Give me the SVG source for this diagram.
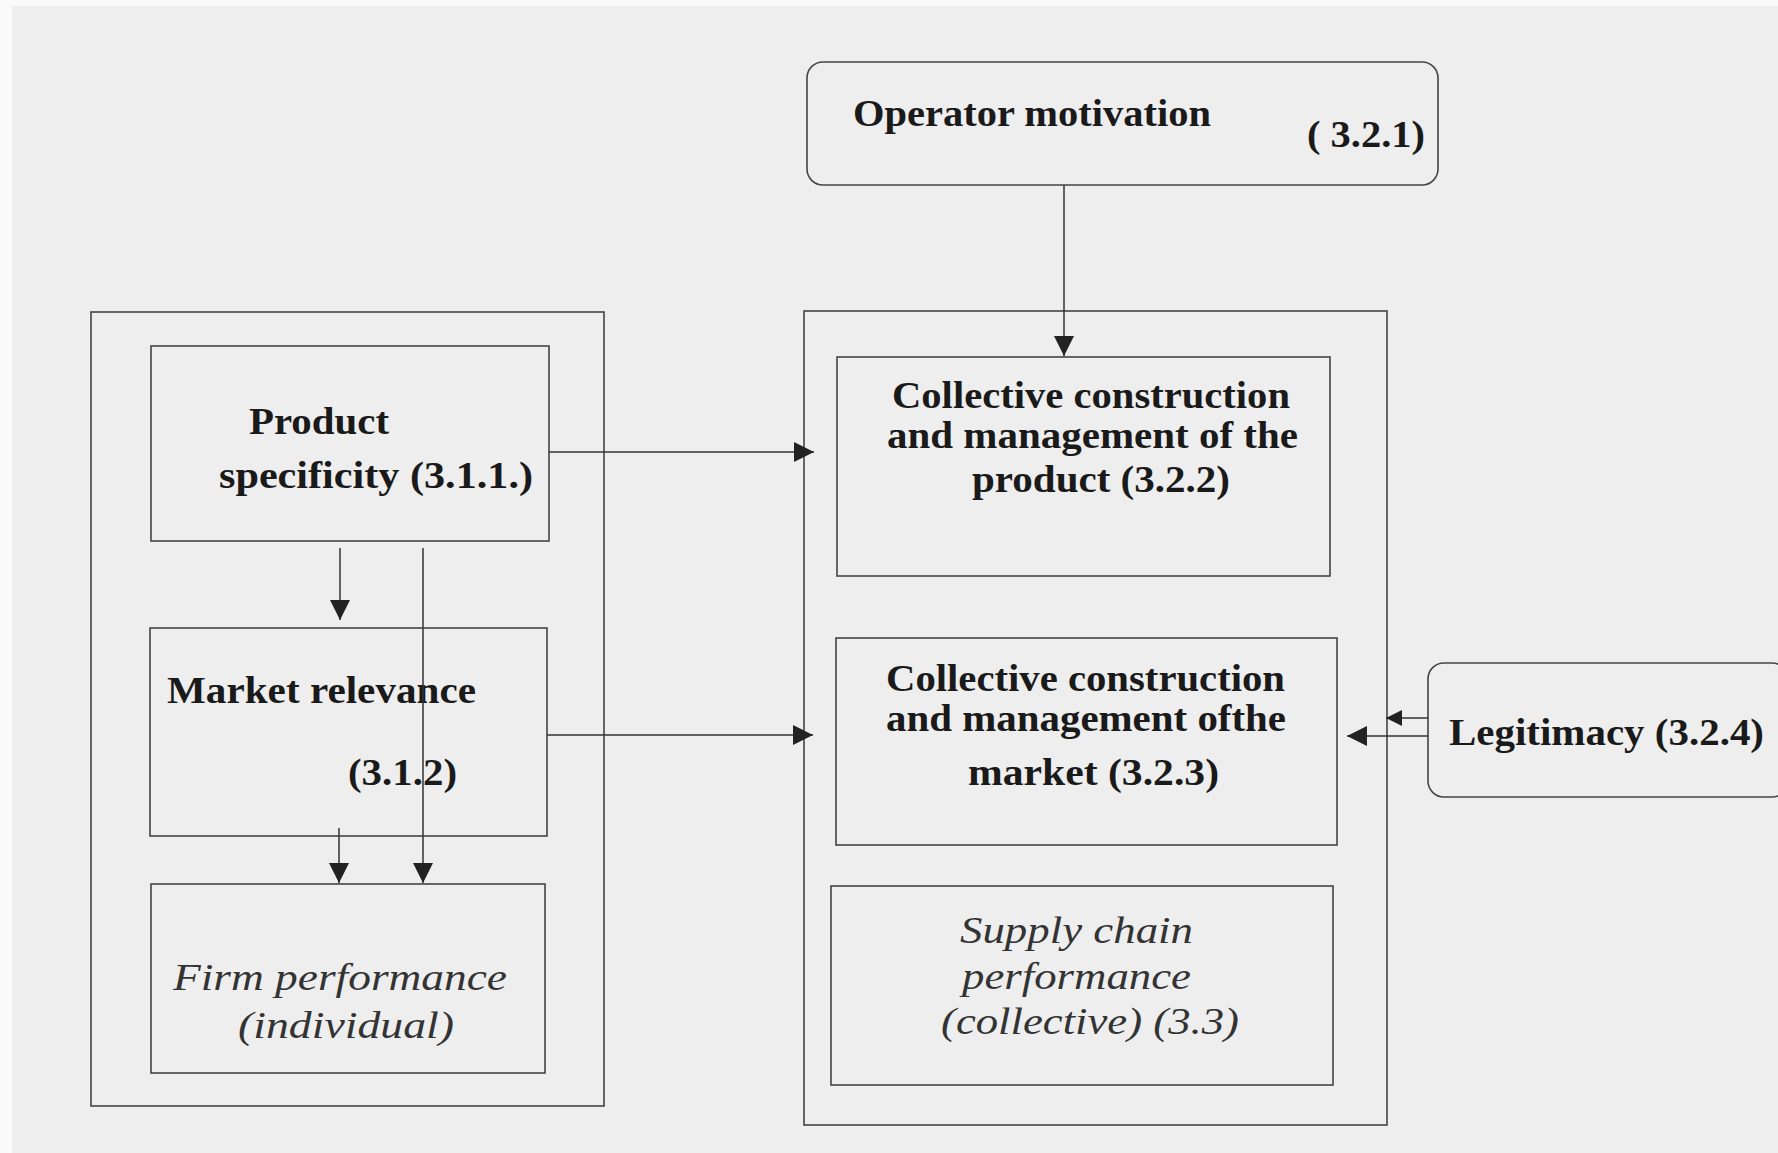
<svg xmlns="http://www.w3.org/2000/svg" width="1778" height="1153" viewBox="0 0 1778 1153">
<defs>
<marker id="arr" viewBox="0 0 10 10" refX="10" refY="5" markerWidth="18" markerHeight="16" markerUnits="userSpaceOnUse" orient="auto">
<path d="M0,0 L10,5 L0,10 z" fill="#222"/>
</marker>
<marker id="arrb" viewBox="0 0 10 10" refX="10" refY="5" markerWidth="22" markerHeight="20" markerUnits="userSpaceOnUse" orient="auto">
<path d="M0,0 L10,5 L0,10 z" fill="#222"/>
</marker>
</defs>
<style>
.box{fill:none;stroke:#444;stroke-width:1.6}
.con{fill:none;stroke:#333;stroke-width:1.5;marker-end:url(#arrb)}
.b{font-family:"Liberation Serif",serif;font-weight:bold;fill:#1a1a1a;font-size:38px}
.i{font-family:"Liberation Serif",serif;font-style:italic;fill:#333;font-size:38px}
</style>
<rect x="0" y="0" width="1778" height="1153" fill="#eeeeee"/>
<rect x="0" y="0" width="1778" height="6" fill="#fafafa"/>
<rect x="0" y="0" width="12" height="1153" fill="#fafafa"/>

<g id="outer-left"><rect class="box" x="91" y="312" width="513" height="794"/></g>
<g id="outer-right"><rect class="box" x="804" y="311" width="583" height="814"/></g>

<g id="operator">
<rect class="box" x="807" y="62" width="631" height="123" rx="16"/>
<text class="b" x="853" y="126" textLength="358" lengthAdjust="spacingAndGlyphs">Operator motivation</text>
<text class="b" x="1307" y="147" textLength="118" lengthAdjust="spacingAndGlyphs">( 3.2.1)</text>
</g>

<g id="product">
<rect class="box" x="151" y="346" width="398" height="195"/>
<text class="b" x="249" y="434" textLength="140" lengthAdjust="spacingAndGlyphs">Product</text>
<text class="b" x="219" y="488" textLength="314" lengthAdjust="spacingAndGlyphs">specificity  (3.1.1.)</text>
</g>

<g id="market">
<rect class="box" x="150" y="628" width="397" height="208"/>
<text class="b" x="167" y="703" textLength="309" lengthAdjust="spacingAndGlyphs">Market relevance</text>
<text class="b" x="348" y="785" textLength="109" lengthAdjust="spacingAndGlyphs">(3.1.2)</text>
</g>

<g id="firm">
<rect class="box" x="151" y="884" width="394" height="189"/>
<text class="i" x="173" y="990" textLength="334" lengthAdjust="spacingAndGlyphs">Firm performance</text>
<text class="i" x="238" y="1038" textLength="216" lengthAdjust="spacingAndGlyphs">(individual)</text>
</g>

<g id="coll-product">
<rect class="box" x="837" y="357" width="493" height="219"/>
<text class="b" x="892" y="408" textLength="398" lengthAdjust="spacingAndGlyphs">Collective construction</text>
<text class="b" x="887" y="448" textLength="411" lengthAdjust="spacingAndGlyphs">and management of the</text>
<text class="b" x="972" y="492" textLength="258" lengthAdjust="spacingAndGlyphs">product (3.2.2)</text>
</g>

<g id="coll-market">
<rect class="box" x="836" y="638" width="501" height="207"/>
<text class="b" x="886" y="691" font-size="45" textLength="399" lengthAdjust="spacingAndGlyphs">Collective construction</text>
<text class="b" x="886" y="731" font-size="45" textLength="400" lengthAdjust="spacingAndGlyphs">and management ofthe</text>
<text class="b" x="968" y="785" font-size="45" textLength="251" lengthAdjust="spacingAndGlyphs">market (3.2.3)</text>
</g>

<g id="supply">
<rect class="box" x="831" y="886" width="502" height="199"/>
<text class="i" x="960" y="943" font-size="45" textLength="233" lengthAdjust="spacingAndGlyphs">Supply chain</text>
<text class="i" x="962" y="989" font-size="45" textLength="229" lengthAdjust="spacingAndGlyphs">performance</text>
<text class="i" x="941" y="1034" font-size="45" textLength="298" lengthAdjust="spacingAndGlyphs">(collective) (3.3)</text>
</g>

<g id="legitimacy">
<rect class="box" x="1428" y="663" width="360" height="134" rx="16"/>
<text class="b" x="1449" y="745" font-size="42" textLength="315" lengthAdjust="spacingAndGlyphs">Legitimacy (3.2.4)</text>
</g>

<g id="connectors">
<line class="con" x1="1064" y1="185" x2="1064" y2="356"/>
<line class="con" x1="549" y1="452" x2="814" y2="452"/>
<line class="con" x1="547" y1="735" x2="813" y2="735"/>
<line class="con" x1="340" y1="548" x2="340" y2="620"/>
<line class="con" x1="423" y1="548" x2="423" y2="883"/>
<line class="con" x1="339" y1="828" x2="339" y2="883"/>
<line class="con" x1="1428" y1="718" x2="1386" y2="718" style="marker-end:url(#arr)"/>
<line class="con" x1="1428" y1="736" x2="1347" y2="736"/>
</g>
</svg>
